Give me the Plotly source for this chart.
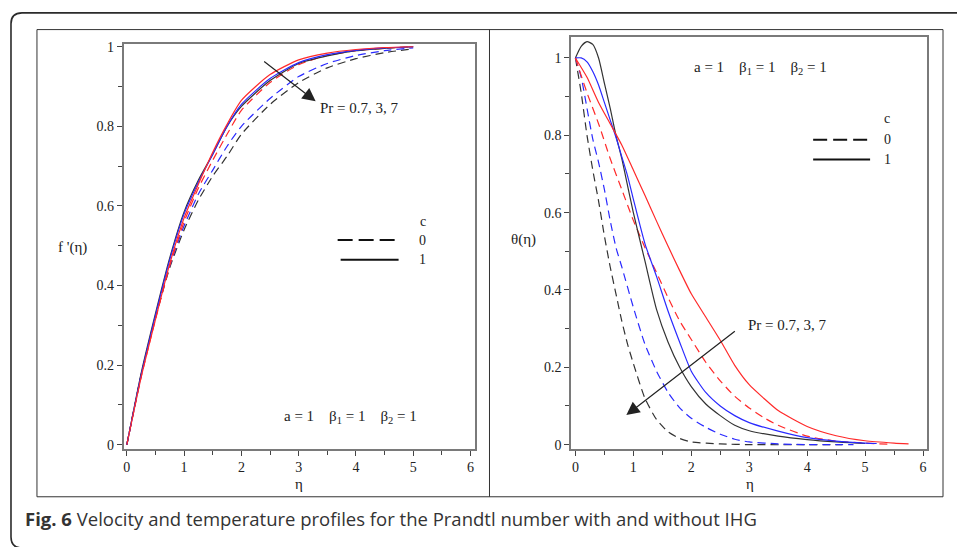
import plotly.graph_objects as go

# ---------------- data ----------------
# Left panel: f'(eta)
eta_f = [0, 0.25, 0.5, 0.75, 1.0, 1.25, 1.5, 1.75, 2.0, 2.5, 3.0, 3.5, 4.0, 4.5, 5.0]
f_red_c1   = [0, 0.17, 0.315, 0.455, 0.57, 0.655, 0.735, 0.805, 0.865, 0.93, 0.967, 0.984, 0.993, 0.998, 1.0]
f_blue_c1  = [0, 0.175, 0.325, 0.465, 0.58, 0.66, 0.73, 0.80, 0.855, 0.92, 0.96, 0.98, 0.991, 0.997, 1.0]
f_black_c1 = [0, 0.18, 0.33, 0.47, 0.585, 0.665, 0.73, 0.80, 0.85, 0.915, 0.958, 0.977, 0.99, 0.996, 1.0]
f_red_c0   = [0, 0.17, 0.315, 0.45, 0.56, 0.645, 0.715, 0.78, 0.84, 0.91, 0.955, 0.978, 0.99, 0.996, 1.0]
f_blue_c0  = [0, 0.175, 0.32, 0.45, 0.55, 0.63, 0.69, 0.75, 0.80, 0.87, 0.925, 0.958, 0.978, 0.99, 0.997]
f_black_c0 = [0, 0.175, 0.32, 0.445, 0.54, 0.615, 0.675, 0.725, 0.78, 0.855, 0.91, 0.947, 0.97, 0.985, 0.995]

# Right panel: theta(eta)
eta_bk0 = [0, 0.1, 0.2, 0.3, 0.4, 0.5, 0.6, 0.7, 0.8, 0.9, 1.0, 1.2, 1.4, 1.6, 1.8, 2.0, 2.5, 3.0, 4.6]
t_bk0   = [1.0, 0.91, 0.8, 0.71, 0.63, 0.54, 0.46, 0.39, 0.32, 0.26, 0.21, 0.12, 0.065, 0.033, 0.016, 0.007, 0.002, 0.0, 0.0]
eta_bl0 = [0, 0.1, 0.2, 0.3, 0.4, 0.5, 0.6, 0.7, 0.8, 1.0, 1.2, 1.4, 1.6, 1.8, 2.0, 2.25, 2.5, 2.75, 3.0, 3.5, 4.0, 4.8]
t_bl0   = [1.0, 0.95, 0.87, 0.79, 0.73, 0.66, 0.58, 0.51, 0.46, 0.355, 0.26, 0.19, 0.135, 0.095, 0.068, 0.045, 0.027, 0.014, 0.007, 0.002, 0.0, 0.0]
eta_rd0 = [0, 0.2, 0.4, 0.6, 0.8, 1.0, 1.2, 1.4, 1.6, 1.8, 2.0, 2.25, 2.5, 2.75, 3.0, 3.25, 3.5, 4.0, 4.5, 5.0, 5.4]
t_rd0   = [1.0, 0.91, 0.83, 0.74, 0.66, 0.58, 0.51, 0.445, 0.38, 0.32, 0.272, 0.213, 0.165, 0.125, 0.095, 0.07, 0.05, 0.022, 0.009, 0.004, 0.001]
eta_bk1 = [0, 0.1, 0.2, 0.3, 0.4, 0.5, 0.6, 0.7, 0.8, 0.9, 1.0, 1.2, 1.4, 1.6, 1.8, 2.0, 2.25, 2.5, 2.75, 3.0, 3.5, 4.0, 4.5, 5.0]
t_bk1   = [1.0, 1.03, 1.042, 1.035, 1.0, 0.935, 0.87, 0.8, 0.74, 0.67, 0.6, 0.475, 0.35, 0.265, 0.2, 0.15, 0.105, 0.075, 0.05, 0.036, 0.022, 0.013, 0.007, 0.003]
eta_bl1 = [0, 0.1, 0.2, 0.3, 0.4, 0.5, 0.6, 0.7, 0.8, 0.9, 1.0, 1.2, 1.4, 1.6, 1.8, 2.0, 2.25, 2.5, 2.75, 3.0, 3.5, 4.0, 4.5, 5.0, 5.2]
t_bl1   = [1.0, 1.0, 0.99, 0.965, 0.93, 0.885, 0.84, 0.795, 0.745, 0.695, 0.635, 0.52, 0.435, 0.345, 0.265, 0.19, 0.135, 0.1, 0.075, 0.057, 0.035, 0.018, 0.009, 0.004, 0.003]
eta_rd1 = [0, 0.2, 0.4, 0.6, 0.8, 1.0, 1.2, 1.4, 1.6, 1.8, 2.0, 2.25, 2.5, 2.75, 3.0, 3.25, 3.5, 4.0, 4.5, 5.0, 5.5, 5.75]
t_rd1   = [1.0, 0.95, 0.885, 0.83, 0.775, 0.71, 0.645, 0.578, 0.513, 0.45, 0.39, 0.33, 0.27, 0.205, 0.155, 0.12, 0.088, 0.047, 0.023, 0.01, 0.004, 0.002]

x_ticks = [0, 1, 2, 3, 4, 5, 6]
y_ticks = [0, 0.2, 0.4, 0.6, 0.8, 1]
y_tick_text = ["0", "0.2", "0.4", "0.6", "0.8", "1"]

# ---------------- styling ----------------
W, H = 957, 547
def PX(x): return x / W
def PY(y): return 1 - y / H

RED, BLUE, BLACK = "#ff2a2a", "#2a2aff", "#333333"
DASH = "8px,5px"
SERIF = "Liberation Serif"

fig = go.Figure()

def add(x, y, color, dash, xa, ya):
    fig.add_trace(go.Scatter(x=x, y=y, mode="lines", xaxis=xa, yaxis=ya,
                             line=dict(color=color, width=1.2, dash=dash, shape="spline", smoothing=0.6),
                             showlegend=False, hoverinfo="skip"))

# left panel
add(eta_f, f_black_c0, BLACK, DASH, "x", "y")
add(eta_f, f_blue_c0, BLUE, DASH, "x", "y")
add(eta_f, f_red_c0, RED, DASH, "x", "y")
add(eta_f, f_black_c1, BLACK, "solid", "x", "y")
add(eta_f, f_blue_c1, BLUE, "solid", "x", "y")
add(eta_f, f_red_c1, RED, "solid", "x", "y")
# right panel
add(eta_bk0, t_bk0, BLACK, DASH, "x2", "y2")
add(eta_bl0, t_bl0, BLUE, DASH, "x2", "y2")
add(eta_rd0, t_rd0, RED, DASH, "x2", "y2")
add(eta_bk1, t_bk1, BLACK, "solid", "x2", "y2")
add(eta_bl1, t_bl1, BLUE, "solid", "x2", "y2")
add(eta_rd1, t_rd1, RED, "solid", "x2", "y2")

tickfont = dict(family=SERIF, size=14, color="#222")

def xax(domain, rng, anchor):
    return dict(domain=domain, range=rng, showline=True, linecolor="#7a7a7a", linewidth=2, mirror=True,
                ticks="outside", ticklen=5, tickwidth=1, tickcolor="#444", tickvals=x_ticks,
                minor=dict(tickvals=[0.5, 1.5, 2.5, 3.5, 4.5, 5.5], ticks="outside", ticklen=4, tickcolor="#444"),
                showgrid=False, zeroline=False, tickfont=tickfont, anchor=anchor, fixedrange=True)

def yax(domain, rng, anchor):
    return dict(domain=domain, range=rng, showline=True, linecolor="#7a7a7a", linewidth=2, mirror=True,
                ticks="outside", ticklen=5, tickwidth=1, tickcolor="#444", tickvals=y_ticks, ticktext=y_tick_text,
                minor=dict(tickvals=[0.1, 0.3, 0.5, 0.7, 0.9], ticks="outside", ticklen=4, tickcolor="#444"),
                showgrid=False, zeroline=False, tickfont=tickfont, anchor=anchor, fixedrange=True)

fig.update_layout(
    width=W, height=H, margin=dict(l=0, r=0, t=0, b=0),
    paper_bgcolor="white", plot_bgcolor="white",
    xaxis=xax([PX(123), PX(474)], [-0.052, 6.07], "y"),
    yaxis=yax([PY(451), PY(40)], [-0.0099, 1.006], "x"),
    xaxis2=xax([PX(571), PX(927)], [-0.069, 6.069], "y2"),
    yaxis2=yax([PY(451), PY(33)], [-0.0102, 1.053], "x2"),
)

shapes = []
# outer rounded frame (continues beyond the right and bottom edges)
shapes.append(dict(type="path", xref="paper", yref="paper",
                   path=f"M {PX(960)},{PY(8)} L {PX(21)},{PY(8)} Q {PX(10)},{PY(8)} {PX(10)},{PY(19)} "
                        f"L {PX(10)},{PY(541)} Q {PX(10)},{PY(552)} {PX(21)},{PY(552)} L {PX(960)},{PY(552)}",
                   line=dict(color="#2b2b2b", width=1.6)))
# inner box and divider
shapes.append(dict(type="rect", xref="paper", yref="paper", x0=PX(36), x1=PX(943), y0=PY(500), y1=PY(25),
                   line=dict(color="#333", width=1)))
shapes.append(dict(type="line", xref="paper", yref="paper", x0=PX(489), x1=PX(489), y0=PY(500), y1=PY(25),
                   line=dict(color="#333", width=1)))
# legends
def leg_line(x0, x1, y, dash):
    shapes.append(dict(type="line", xref="paper", yref="paper", x0=PX(x0), x1=PX(x1), y0=PY(y), y1=PY(y),
                       line=dict(color="#111", width=2, dash=dash)))
leg_line(337, 398, 239, "15px,6px")
leg_line(340, 398, 259, "solid")
leg_line(813, 870, 137, "14px,6px")
leg_line(813, 870, 157, "solid")
fig.update_layout(shapes=shapes)

NB = "\u00a0"
ann = []
def text(x, y, s, size=15, family=SERIF, xanchor="center", color="#222"):
    ann.append(dict(x=PX(x), y=PY(y), xref="paper", yref="paper", text=s, showarrow=False,
                    xanchor=xanchor, yanchor="middle", font=dict(family=family, size=size, color=color)))

params = f"a = 1{NB*4}β<sub>1</sub> = 1{NB*4}β<sub>2</sub> = 1"
text(350, 419, params)
text(760, 64, params)
text(359, 105, "Pr = 0.7, 3, 7")
text(787, 325, "Pr = 0.7, 3, 7")
text(422, 220, "c", 14); text(422, 239, "0", 14); text(422, 259, "1", 14)
text(887, 115, "c", 14); text(887, 137, "0", 14); text(887, 157, "1", 14)
text(72, 247, "f '(η)", 15)
text(523, 238, "θ(η)", 15)
text(298, 487, "η", 15)
text(750, 487, "η", 15)
text(22, 522, "<b>Fig. 6</b> Velocity and temperature profiles for the Prandtl number with and without IHG",
     18.5, "Open Sans", "left", "#333")

# arrows
ann.append(dict(x=(315 - 126) / 57.33, y=(447 - 98) / 404.5, xref="x", yref="y", ax=-53, ay=-41,
                showarrow=True, arrowhead=2, arrowsize=2.2, arrowwidth=1.2, arrowcolor="#222", text=""))
ann.append(dict(x=(626 - 575) / 58.0, y=(447 - 417) / 393.0, xref="x2", yref="y2", ax=110, ay=-85,
                showarrow=True, arrowhead=2, arrowsize=2.2, arrowwidth=1.2, arrowcolor="#222", text=""))
fig.update_layout(annotations=ann)

fig.write_html("out.html", config={"displayModeBar": False, "staticPlot": True})

# remove the default page margin so the figure sits at the window's origin
with open("out.html", "r", encoding="utf-8") as fh:
    html = fh.read()
html = html.replace("<head>", "<head><style>html,body{margin:0;padding:0;overflow:hidden;}</style>", 1)
with open("out.html", "w", encoding="utf-8") as fh:
    fh.write(html)
